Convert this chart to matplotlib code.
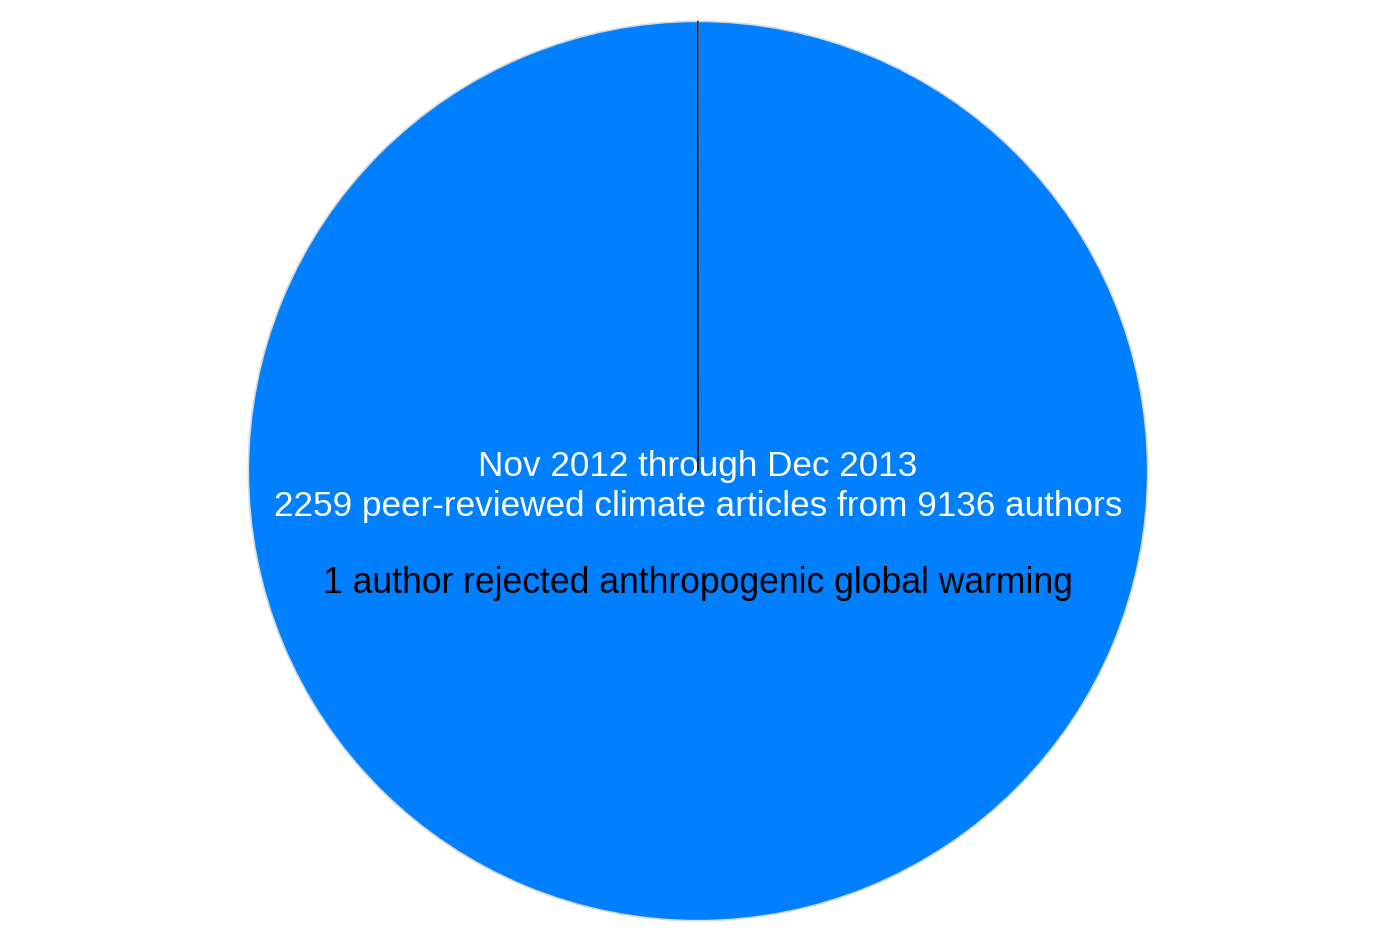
import matplotlib.pyplot as plt

# Authors: accepted vs rejected anthropogenic global warming
labels = ['Rejected', 'Accepted']
authors = [1, 9135]
colors = ['black', '#007FFF']

title_lines = ['Nov 2012 through Dec 2013',
               '2259 peer-reviewed climate articles from 9136 authors']
note = '1 author rejected anthropogenic global warming'

plt.rcParams['font.family'] = ['Liberation Sans', 'DejaVu Sans']

fig = plt.figure(figsize=(13.97, 9.37), dpi=100)
ax = fig.add_axes([0.1768, 0.0149, 0.6457, 0.9627])

wedges, _ = ax.pie(authors, colors=colors, startangle=90, counterclock=True,
                   radius=1.0, wedgeprops={'linewidth': 0})
wedges[1].set_edgecolor('#d8d8d8')
wedges[1].set_linewidth(1.2)
wedges[0].set_edgecolor('black')
wedges[0].set_linewidth(0.6)
wedges[0].set_zorder(5)
ax.set_xlim(-1.003, 1.003)
ax.set_ylim(-1.003, 1.003)
ax.set_aspect('equal')

ax.text(0, -0.033, title_lines[0] + '\n' + title_lines[1], ha='center', va='center',
        fontsize=25.3, color='white', linespacing=1.28)
ax.text(0, -0.247, note, ha='center', va='center', fontsize=25.6, color='black')

fig.savefig('out.png', dpi=100)
